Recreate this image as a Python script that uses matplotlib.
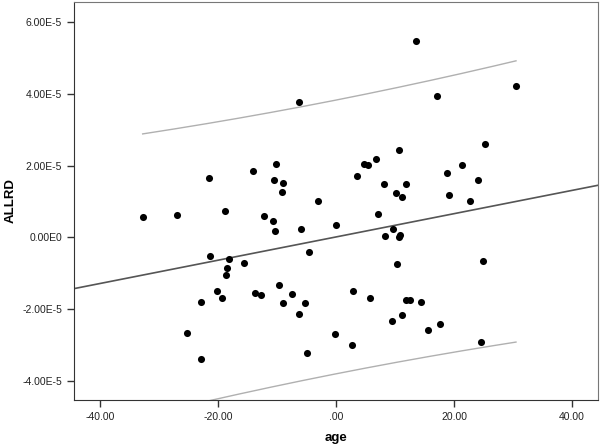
import numpy as np
import matplotlib
matplotlib.use("Agg")
import matplotlib.pyplot as plt

plt.rcParams['font.family'] = ['Liberation Sans', 'DejaVu Sans']

# age (centered) vs ALLRD, y values given in units of 1E-5
age = [13.64, -6.25, 17.10, 30.50, 25.21, 21.34, 18.80, 23.99, 19.14, 22.67,
       10.66, 6.84, 4.77, 5.37, 3.54, 8.08, 11.90, 10.15, 11.22, 7.06,
       9.61, 8.25, 10.88, 10.71, -21.55, -32.76, -26.89, -18.75, -14.10, -10.15,
       -10.49, -9.00, -9.22, -2.98, -12.19, -10.71, -10.41, -5.88, 0.03, -4.55,
       -21.29, -18.16, -15.58, -18.41, -18.63, -20.16, -19.31, -22.82, -25.20, -22.82,
       10.41, -13.80, -12.70, -9.69, -9.01, -7.49, -5.23, -6.25, -0.11, -4.86,
       2.65, 2.86, 5.71, 9.52, 11.25, 11.90, 12.58, 14.32, 15.63, 17.66,
       24.53, 24.91]
allrd_e5 = [5.49, 3.78, 3.94, 4.23, 2.60, 2.03, 1.81, 1.61, 1.17, 1.02,
            2.45, 2.20, 2.05, 2.01, 1.71, 1.48, 1.48, 1.24, 1.13, 0.66,
            0.23, 0.04, 0.06, 0.02, 1.65, 0.56, 0.63, 0.75, 1.86, 2.05,
            1.61, 1.52, 1.27, 1.02, 0.59, 0.45, 0.19, 0.24, 0.34, -0.42,
            -0.53, -0.59, -0.71, -0.85, -1.05, -1.50, -1.70, -1.80, -2.68, -3.40,
            -0.74, -1.56, -1.60, -1.34, -1.83, -1.58, -1.83, -2.15, -2.71, -3.23,
            -3.01, -1.49, -1.70, -2.34, -2.17, -1.75, -1.75, -1.80, -2.59, -2.41,
            -2.91, -0.66]

x_ticks = [-40, -20, 0, 20, 40]
x_labels = ['-40.00', '-20.00', '.00', '20.00', '40.00']
y_ticks = [-4e-5, -2e-5, 0, 2e-5, 4e-5, 6e-5]
y_labels = ['-4.00E-5', '-2.00E-5', '0.00E0', '2.00E-5', '4.00E-5', '6.00E-5']

x = np.array(age)
y = np.array(allrd_e5) * 1e-5

# linear fit + 95% prediction interval
n = len(x)
b, a = np.polyfit(x, y, 1)
resid = y - (a + b * x)
s = np.sqrt(np.sum(resid**2) / (n - 2))
sxx = np.sum((x - x.mean())**2)
t = 1.994

fig = plt.figure(figsize=(6, 4.48), dpi=100)
ax = fig.add_axes([0.1233, 0.1071, 0.8734, 0.8884])

xlim = (-44.4, 44.4)
xl = np.linspace(xlim[0], xlim[1], 200)
ax.plot(xl, a + b * xl, color='#555555', lw=1.2, zorder=2)

xb = np.linspace(x.min(), x.max(), 200)
half = t * s * np.sqrt(1 + 1 / n + (xb - x.mean())**2 / sxx)
ax.plot(xb, a + b * xb + half, color='#b0b0b0', lw=1.0, zorder=2)
ax.plot(xb, a + b * xb - half, color='#b0b0b0', lw=1.0, zorder=2)

ax.scatter(x, y, s=26, color='black', zorder=3, linewidths=0)

ax.set_xlim(*xlim)
ax.set_ylim(-4.54e-5, 6.57e-5)
ax.set_xticks(x_ticks)
ax.set_xticklabels(x_labels)
ax.set_yticks(y_ticks)
ax.set_yticklabels(y_labels)
ax.tick_params(direction='out', length=5, width=1, colors='#333333',
               labelsize=7.5, labelcolor='#222222')
for sp in ax.spines.values():
    sp.set_color('#777777')
ax.spines['left'].set_color('#333333')
ax.spines['bottom'].set_color('#333333')

ax.set_xlabel('age', fontsize=9.5, fontweight='bold', labelpad=7)
ax.set_ylabel('ALLRD', fontsize=9.5, fontweight='bold', labelpad=4)

fig.savefig('out.png', dpi=100)
